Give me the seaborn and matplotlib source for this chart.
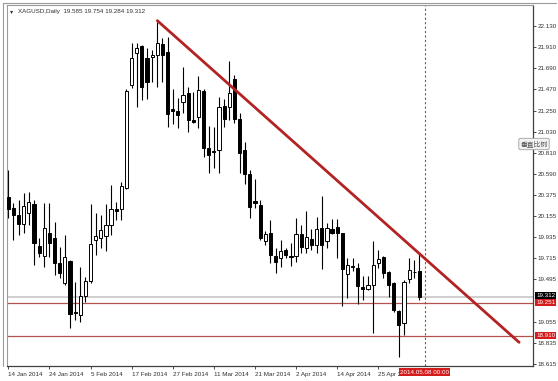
import matplotlib
matplotlib.use("Agg")
import matplotlib.pyplot as plt
import matplotlib.transforms as mtransforms
from matplotlib.lines import Line2D
import seaborn as sns
import pandas as pd
import numpy as np

# ---------------- data ----------------
opens = [20.354, 20.233, 20.164, 20.070, 20.181, 20.278, 19.845, 19.737, 19.973, 19.928,
         19.661, 19.453, 19.689, 19.158, 19.120, 19.325, 19.481, 19.904, 19.921, 19.945,
         20.060, 20.223, 20.223, 20.441, 21.516, 21.845, 21.922, 21.800, 21.811, 21.828,
         21.939, 21.863, 21.263, 21.246, 21.343, 21.429, 21.152, 21.180, 21.457, 20.857,
         20.833, 20.840, 21.297, 21.291, 21.575, 21.159, 20.840, 20.590, 20.309, 20.268,
         19.897, 19.973, 19.737, 19.713, 19.800, 19.741, 19.737, 19.963, 19.817, 19.911,
         19.852, 20.032, 19.897, 20.015, 20.042, 19.973, 19.550, 19.637, 19.609, 19.418,
         19.398, 19.436, 19.661, 19.730, 19.574, 19.460, 19.169, 19.037, 19.495, 19.567,
         19.585]
highs = [20.632, 20.285, 20.320, 20.396, 20.406, 20.320, 19.921, 20.285, 20.285, 20.094,
         19.834, 19.956, 19.696, 19.470, 19.626, 19.522, 20.278, 20.181, 20.164, 20.278,
         20.476, 20.302, 20.510, 21.471, 21.956, 21.956, 21.930, 21.897, 21.880, 22.170,
         22.001, 22.019, 21.471, 21.377, 21.707, 21.492, 21.447, 21.610, 21.471, 21.089,
         21.083, 21.395, 21.367, 21.766, 21.620, 21.221, 20.927, 20.632, 20.540, 20.320,
         20.001, 20.112, 19.817, 19.904, 19.817, 19.869, 20.129, 20.060, 20.209, 20.015,
         20.146, 20.361, 20.084, 20.119, 20.119, 19.980, 19.713, 19.713, 19.661, 19.529,
         19.529, 19.897, 19.800, 19.737, 19.585, 19.470, 19.176, 19.488, 19.713, 19.696,
         19.754]
lows = [20.129, 19.904, 19.956, 19.973, 20.060, 19.644, 19.730, 19.626, 19.730, 19.540,
        19.505, 19.436, 18.985, 19.072, 19.054, 19.260, 19.453, 19.748, 19.817, 19.793,
        19.956, 20.112, 20.112, 20.431, 21.481, 21.291, 21.360, 21.367, 21.551, 21.499,
        21.551, 21.076, 21.110, 21.065, 21.221, 21.031, 21.117, 21.065, 20.771, 20.597,
        20.649, 20.597, 21.083, 21.152, 21.117, 20.597, 20.486, 20.129, 20.240, 19.904,
        19.852, 19.661, 19.564, 19.626, 19.713, 19.633, 19.678, 19.772, 19.765, 19.800,
        19.765, 19.599, 19.817, 19.966, 19.713, 19.217, 19.297, 19.585, 19.238, 19.280,
        19.384, 18.933, 19.609, 19.505, 19.314, 19.158, 18.690, 18.916, 19.453, 19.505,
        19.284]
closes = [20.223, 20.164, 20.070, 20.257, 20.302, 19.869, 19.765, 20.025, 19.869, 19.668,
          19.557, 19.730, 19.134, 19.141, 19.321, 19.477, 19.862, 19.945, 20.008, 20.056,
          20.223, 20.210, 20.465, 21.457, 21.793, 21.897, 21.499, 21.551, 21.828, 21.956,
          21.828, 21.214, 21.249, 21.204, 21.412, 21.152, 21.135, 21.464, 20.857, 20.788,
          20.819, 21.284, 21.159, 21.429, 21.159, 20.805, 20.590, 20.243, 20.292, 19.921,
          19.963, 19.748, 19.678, 19.793, 19.748, 19.730, 19.963, 19.827, 19.931, 19.852,
          20.015, 19.852, 20.025, 19.973, 19.973, 19.599, 19.644, 19.619, 19.425, 19.398,
          19.436, 19.644, 19.703, 19.564, 19.436, 19.176, 19.020, 19.470, 19.592, 19.574,
          19.312]

date_tick_labels = ["14 Jan 2014", "24 Jan 2014", "5 Feb 2014", "17 Feb 2014", "27 Feb 2014",
                    "11 Mar 2014", "21 Mar 2014", "2 Apr 2014", "14 Apr 2014", "25 Apr 2014"]
date_tick_idx = [0, 8, 16, 24, 32, 40, 48, 56, 64, 72]
price_ticks = [22.130, 21.910, 21.690, 21.470, 21.250, 21.030, 20.810, 20.590, 20.375,
               20.155, 19.935, 19.715, 19.495, 19.055, 18.835, 18.615]
bid_price = 19.312
level_lines = [19.251, 18.910]
trend_x = [29, 99.4]
trend_y = [22.185, 18.84]
cursor_idx = 81
cursor_label = "2014.05.08 00:00"
title_text = "XAGUSD,Daily  19.585 19.754 19.284 19.312"

df = pd.DataFrame({"o": opens, "h": highs, "l": lows, "c": closes})
df["i"] = np.arange(len(df))

# ---------------- style ----------------
sns.set_theme(style="white")
plt.rcParams['font.family'] = ['Liberation Sans', 'DejaVu Sans', 'Noto Sans CJK SC']
FS = 4.5

fig = plt.figure(figsize=(5.58, 3.81), dpi=100)
ax = fig.add_axes([7/558, 1-366/381, (533-7)/558, (366-5)/381])
ax.set_facecolor("white")

# wicks
ax.vlines(df["i"], df["l"], df["h"], color="black", lw=0.8, zorder=2)
# bodies
up = df["c"] >= df["o"]
bw = 0.62
ax.bar(df["i"][up], (df["c"] - df["o"])[up].clip(lower=0.006), bottom=df["o"][up],
       width=bw, color="white", edgecolor="black", linewidth=0.7, zorder=3)
ax.bar(df["i"][~up], (df["o"] - df["c"])[~up].clip(lower=0.006), bottom=df["c"][~up],
       width=bw, color="black", edgecolor="black", linewidth=0.7, zorder=3)

# horizontal levels
ax.axhline(bid_price, color="#cfcfcf", lw=1.4, zorder=1)
for lv in level_lines:
    ax.axhline(lv, color="#b4524e", lw=0.9, zorder=1)

# trend line
sns.lineplot(x=trend_x, y=trend_y, ax=ax, color="#b32323", lw=2.0, zorder=4)

# cursor vertical line
ax.axvline(cursor_idx, color="#d03030", lw=0.8, ls=(0, (2, 2)), zorder=1)

ax.set_xlim(-0.25, 102.1)
ax.set_ylim(18.594, 22.348)

# y axis on right
ax.yaxis.tick_right()
ax.set_yticks(price_ticks)
ax.set_yticklabels([f"{t:.3f}" for t in price_ticks])
ax.tick_params(axis="y", which="both", right=True, left=False, length=2.5, width=0.6,
               pad=1.0, labelsize=FS, colors="#303030")
ax.set_xticks(date_tick_idx)
ax.set_xticklabels(date_tick_labels)
ax.tick_params(axis="x", bottom=True, length=2.5, width=0.6, pad=1.5, labelsize=FS,
               colors="#303030")
for lab in ax.get_xticklabels():
    lab.set_horizontalalignment("left")

for side in ["left", "top"]:
    ax.spines[side].set_color("#9a9a9a")
    ax.spines[side].set_linewidth(0.8)
for side in ["right", "bottom"]:
    ax.spines[side].set_color("#404040")
    ax.spines[side].set_linewidth(0.9)

# price labels on the right axis
trans_y = mtransforms.blended_transform_factory(ax.transAxes, ax.transData)
ax.text(1.006, bid_price + 0.012, f"{bid_price:.3f}", transform=trans_y, fontsize=FS,
        color="white", va="center", ha="left", zorder=6,
        bbox=dict(boxstyle="square,pad=0.15", fc="black", ec="none"))
for lv in level_lines:
    ax.text(1.006, lv, f"{lv:.3f}", transform=trans_y, fontsize=FS, color="white",
            va="center", ha="left", zorder=6,
            bbox=dict(boxstyle="square,pad=0.15", fc="#d41c1c", ec="none"))

# cursor date label
trans_x = mtransforms.blended_transform_factory(ax.transData, ax.transAxes)
ax.text(cursor_idx, -0.017, cursor_label, transform=trans_x, fontsize=FS, color="white",
        va="center", ha="center", zorder=7, clip_on=False,
        bbox=dict(boxstyle="square,pad=0.2", fc="#d41c1c", ec="none"))

# title
ax.text(0.006, 0.982, "\u25be", transform=ax.transAxes, fontsize=FS, color="#303030",
        va="center", ha="left", family="DejaVu Sans")
ax.text(0.02, 0.982, title_text, transform=ax.transAxes, fontsize=FS, color="#303030",
        va="center", ha="left")

# vertical scale button
fig.text(534/558, 1-144/381, "垂直比例", fontsize=FS + 0.4, color="#505050",
         ha="center", va="center", family=['Noto Sans CJK SC', 'DejaVu Sans'],
         bbox=dict(boxstyle="round,pad=0.25,rounding_size=0.2", fc="#f2f2f2", ec="#a0a0a0",
                   lw=0.6))

# outer frame
fig.add_artist(Line2D([3/558, 556/558], [1-3/381, 1-3/381], color="#9a9a9a", lw=0.8))
fig.add_artist(Line2D([3/558, 3/558], [1-3/381, 1-366/381], color="#9a9a9a", lw=0.8))

fig.savefig("out.png", dpi=100, facecolor="white")
